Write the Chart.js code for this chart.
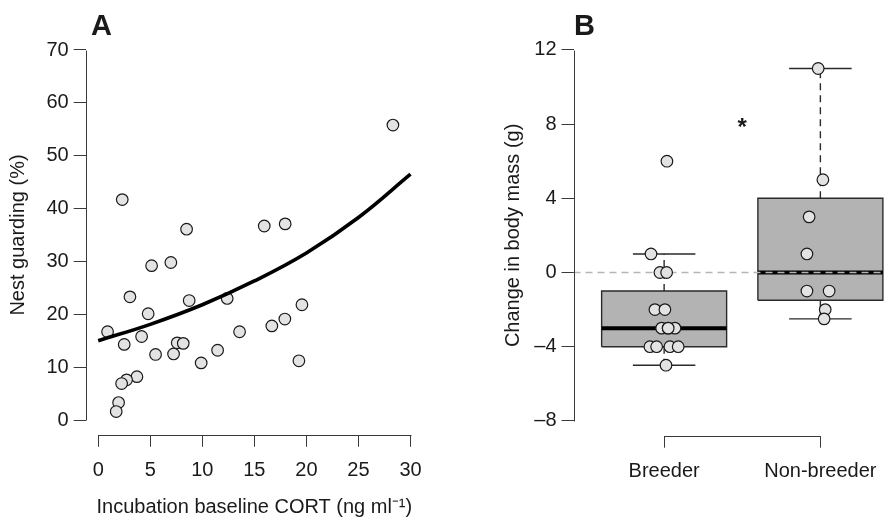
<!DOCTYPE html>
<html>
<head>
<meta charset="utf-8">
<script src="https://cdn.jsdelivr.net/npm/chart.js@4.4.1/dist/chart.umd.min.js"></script>
<style>
  body { margin: 0; background: #fff; overflow: hidden; width: 884px; height: 520px; position: relative; }
  canvas { position: absolute; top: 0; }
  #chartA { left: 0; }
  #chartB { left: 480px; }
</style>
</head>
<body>
<canvas id="chartA" width="440" height="520"></canvas>
<canvas id="chartB" width="440" height="520"></canvas>
<script>
// datos panel A
var cortX  = [0.90, 3.05, 4.80, 8.74, 12.39, 13.58, 2.50, 4.17, 5.51, 7.24, 7.59, 8.17, 9.89, 11.47, 3.72, 2.73,
              2.25, 1.96, 1.73, 5.13, 2.31, 8.49, 6.98, 28.31, 15.95, 17.96, 16.68, 17.93, 19.57, 19.28];
var guardY = [16.7, 23.3, 20.1, 22.6, 23.0, 16.7, 14.3, 15.8, 12.4, 12.5, 14.6, 14.5, 10.8, 13.2, 8.2, 7.6,
              6.9, 3.3, 1.6, 29.2, 41.7, 36.1, 29.8, 55.8, 36.7, 37.1, 17.8, 19.1, 21.8, 11.2];
var fitX = [0, 5, 10, 15, 20, 25, 30];
var fitY = [15.0, 18.1, 21.8, 26.3, 31.6, 38.3, 46.5];
var xTicksA = [0, 5, 10, 15, 20, 25, 30];
var yTicksA = [0, 10, 20, 30, 40, 50, 60, 70];

// datos panel B
var groups = ['Breeder', 'Non-breeder'];
var breederMass   = [6, 1, 0, 0, -2, -2, -3, -3, -3, -3, -4, -4, -4, -4, -5];
var breederPos    = [1.018, 0.916, 0.973, 1.016, 0.941, 1.005, 0.984, 1.026, 1.069, 1.026, 0.909, 0.952, 1.037, 1.090, 1.012];
var nonBreederMass = [11, 5, 3, 1, -1, -1, -2, -2.5];
var nonBreederPos  = [1.986, 2.016, 1.928, 1.914, 1.914, 2.056, 2.031, 2.024];
var boxLow  = [-5, -2.5];
var boxQ1   = [-4, -1.5];
var boxMed  = [-3, 0];
var boxQ3   = [-1, 4];
var boxHigh = [1, 11];
var yTicksB = [-8, -4, 0, 4, 8, 12];

Chart.defaults.font.family = '"Liberation Sans", Arial, sans-serif';
Chart.defaults.font.size = 20;
Chart.defaults.color = '#1a1a1a';
Chart.defaults.animation = false;

var ptFill = '#e3e3e3';
var ink = '#1a1a1a';
var axisCol = '#3a3a3a';

//lineas de los ejes (estilo R, solo entre el primer y ultimo tick)
var rAxes = {
  id: 'rAxes',
  afterDraw: function (chart) {
    var ctx = chart.ctx, area = chart.chartArea;
    var xs = chart.scales.x, ys = chart.scales.y;
    var yl = Math.round(area.left) + 0.5, xb = Math.round(area.bottom) + 0.5;
    ctx.save();
    ctx.strokeStyle = axisCol;
    ctx.lineWidth = 1;
    ctx.beginPath();
    ctx.moveTo(yl, Math.round(ys.getPixelForValue(ys.ticks[0].value)) + 0.5);
    ctx.lineTo(yl, Math.round(ys.getPixelForValue(ys.ticks[ys.ticks.length - 1].value)) + 0.5);
    ctx.moveTo(Math.round(xs.getPixelForValue(xs.ticks[0].value)) + 0.5, xb);
    ctx.lineTo(Math.round(xs.getPixelForValue(xs.ticks[xs.ticks.length - 1].value)) + 0.5, xb);
    ctx.stroke();
    var tag = chart.options.plugins.rAxes;
    ctx.fillStyle = ink;
    ctx.font = 'bold 29px "Liberation Sans", Arial, sans-serif';
    ctx.textBaseline = 'alphabetic';
    ctx.textAlign = 'left';
    ctx.fillText(tag.tag, tag.tagX, tag.tagY);
    if (tag.star) {
      ctx.font = 'bold 24px "Liberation Sans", Arial, sans-serif';
      ctx.textAlign = 'center';
      ctx.textBaseline = 'middle';
      ctx.fillText('*', xs.getPixelForValue(tag.star[0]), ys.getPixelForValue(tag.star[1]) + 4);
    }
    ctx.restore();
  }
};

function fixTicks( list )
{
  return function (scale) { scale.ticks = list.map(function (v) { return { value: v }; }); };
}

function axisOpts( extra )
{
  var o = {
    type: 'linear',
    border: { display: false },
    grid: { drawOnChartArea: false, drawTicks: true, tickLength: 12, color: axisCol, lineWidth: 1 },
    ticks: { padding: 5, color: ink }
  };
  return Object.assign(o, extra);
}

// grafica A
var seg = function (xArr, yArr) { return xArr.map(function (x, i) { return { x: x, y: yArr[i] }; }); };

new Chart(document.getElementById('chartA'), {
  type: 'scatter',
  data: {
    datasets: [
      {
        data: seg(fitX, fitY),
        showLine: true,
        borderColor: '#000',
        borderWidth: 3.6,
        pointRadius: 0,
        tension: 0.4,
        order: 0
      },
      {
        data: seg(cortX, guardY),
        pointRadius: 5.8,
        pointBackgroundColor: ptFill,
        pointBorderColor: ink,
        pointBorderWidth: 1.2,
        order: 1
      }
    ]
  },
  options: {
    responsive: false,
    events: [],
    layout: { padding: { left: 0, right: 17, top: 35.2, bottom: 0 } },
    plugins: {
      legend: { display: false },
      tooltip: { enabled: false },
      rAxes: { tag: 'A', tagX: 91, tagY: 35 }
    },
    scales: {
      x: axisOpts({
        min: -1.2, max: 31.2,
        afterBuildTicks: fixTicks(xTicksA),
        afterFit: function (s) { s.height = 85.2; },
        ticks: { padding: 12, color: ink },
        title: { display: true, text: 'Incubation baseline CORT (ng ml\u207B\u00B9)', color: ink, padding: { top: 0, bottom: 1 } }
      }),
      y: axisOpts({
        min: -2.8, max: 72.8,
        afterBuildTicks: fixTicks(yTicksA),
        afterFit: function (s) { s.width = 85.7; },
        title: { display: true, text: 'Nest guarding (%)', color: ink, padding: { top: 6, bottom: 0 } }
      })
    }
  },
  plugins: [rAxes]
});

// grafica B
var dsB = [];
dsB.push({
  data: seg(breederPos, breederMass).concat(seg(nonBreederPos, nonBreederMass)),
  pointRadius: 5.8,
  pointBackgroundColor: ptFill,
  pointBorderColor: ink,
  pointBorderWidth: 1.2,
  order: 0
});
dsB.push({
  data: [{ x: 0.42, y: 0 }, { x: 2.58, y: 0 }],
  showLine: true, pointRadius: 0, borderColor: '#b5b5b5', borderWidth: 1.3, borderDash: [7, 5],
  order: 1
});
groups.forEach(function (g, i) {
  var c = i + 1;
  dsB.push({
    data: [{ x: c - 0.4, y: boxMed[i] }, { x: c + 0.4, y: boxMed[i] }],
    showLine: true, pointRadius: 0, borderColor: '#000', borderWidth: 4, order: 2
  });
  dsB.push({
    data: [{ x: c - 0.4, y: boxQ1[i] }, { x: c + 0.4, y: boxQ1[i] }, { x: c + 0.4, y: boxQ3[i] }, { x: c - 0.4, y: boxQ3[i] }, { x: c - 0.4, y: boxQ1[i] }],
    showLine: true, pointRadius: 0, borderColor: '#2a2a2a', borderWidth: 1.4, order: 3
  });
  dsB.push({
    data: [{ x: c, y: boxQ3[i] }, { x: c, y: boxHigh[i] }, { x: null, y: null }, { x: c, y: boxQ1[i] }, { x: c, y: boxLow[i] }],
    showLine: true, spanGaps: false, pointRadius: 0, borderColor: '#2a2a2a', borderWidth: 1.4, borderDash: [7, 5], order: 3
  });
  dsB.push({
    data: [{ x: c - 0.2, y: boxHigh[i] }, { x: c + 0.2, y: boxHigh[i] }, { x: null, y: null }, { x: c - 0.2, y: boxLow[i] }, { x: c + 0.2, y: boxLow[i] }],
    showLine: true, spanGaps: false, pointRadius: 0, borderColor: '#2a2a2a', borderWidth: 1.4, order: 3
  });
  dsB.push({
    data: [{ x: c - 0.4, y: boxQ3[i] }, { x: c + 0.4, y: boxQ3[i] }],
    showLine: true, pointRadius: 0, borderWidth: 0, borderColor: 'rgba(0,0,0,0)',
    fill: { target: { value: boxQ1[i] } }, backgroundColor: '#b3b3b3', order: 4
  });
});

new Chart(document.getElementById('chartB'), {
  type: 'scatter',
  data: { datasets: dsB },
  options: {
    responsive: false,
    events: [],
    layout: { padding: { left: 0, right: 9, top: 35.1, bottom: 0 } },
    plugins: {
      legend: { display: false },
      tooltip: { enabled: false },
      rAxes: { tag: 'B', tagX: 94, tagY: 35, star: [1.5, 8] }
    },
    scales: {
      x: axisOpts({
        min: 0.42, max: 2.58,
        afterBuildTicks: fixTicks([1, 2]),
        afterFit: function (s) { s.height = 84.3; },
        ticks: { padding: 12, color: ink, callback: function (v) { return groups[v - 1]; } }
      }),
      y: axisOpts({
        min: -8.8, max: 12.8,
        afterBuildTicks: fixTicks(yTicksB),
        afterFit: function (s) { s.width = 93.5; },
        ticks: { padding: 5, color: ink, callback: function (v) { return v < 0 ? '\u2013' + Math.abs(v) : '' + v; } },
        title: { display: true, text: 'Change in body mass (g)', color: ink, padding: { top: 21, bottom: 0 } }
      })
    }
  },
  plugins: [rAxes]
});
</script>
</body>
</html>
